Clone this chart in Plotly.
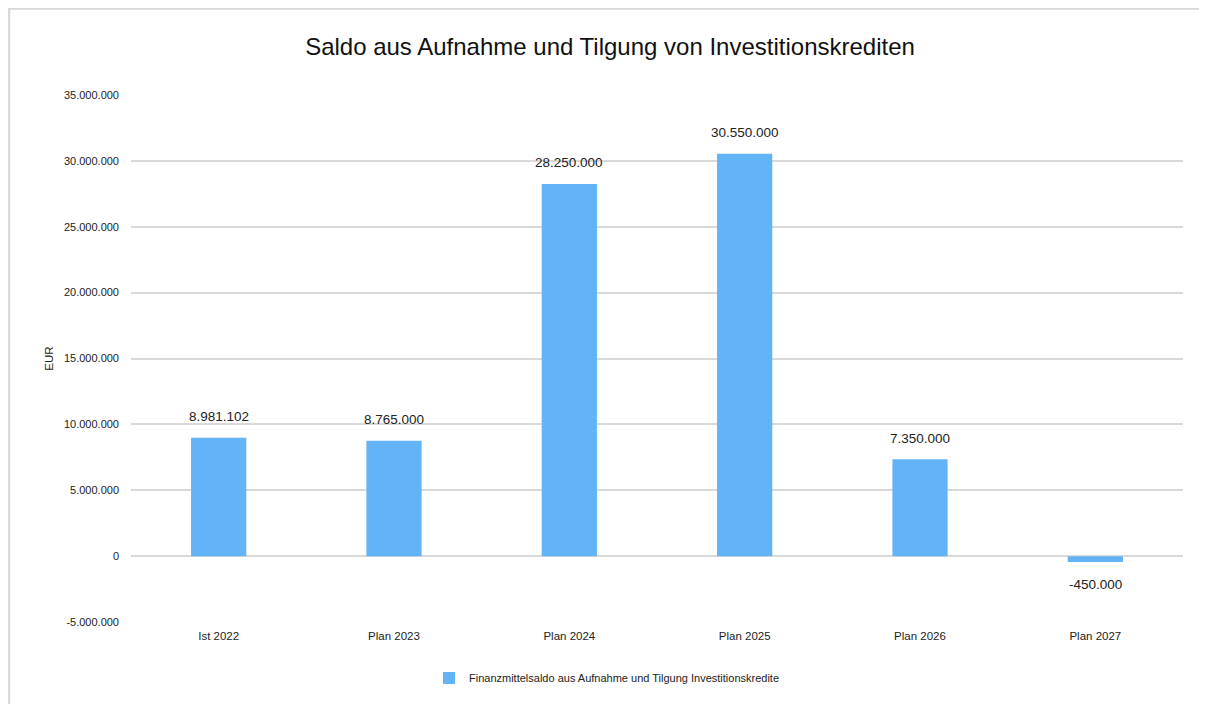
import plotly.graph_objects as go

categories = ["Ist 2022", "Plan 2023", "Plan 2024", "Plan 2025", "Plan 2026", "Plan 2027"]
values = [8981102, 8765000, 28250000, 30550000, 7350000, -450000]
series_name = "Finanzmittelsaldo aus Aufnahme und Tilgung Investitionskredite"
title_text = "Saldo aus Aufnahme und Tilgung von Investitionskrediten"
y_tick_vals = [-5000000, 0, 5000000, 10000000, 15000000, 20000000, 25000000, 30000000, 35000000]

FONT = "Liberation Sans Narrow, Arial Narrow, Liberation Sans, Arial, sans-serif"
TXT = "#222222"

def de(v):
    return f"{v:,.0f}".replace(",", ".")

fig = go.Figure()
fig.add_trace(go.Bar(
    x=categories,
    y=values,
    name=series_name,
    marker=dict(color="#63B4F6", line=dict(width=0)),
    showlegend=True,
    hoverinfo="x+y",
))

# value labels placed through the axes
for c, v in zip(categories, values):
    fig.add_annotation(
        x=c, y=v, xref="x", yref="y",
        text=de(v),
        showarrow=False, yanchor="middle",
        yshift=21 if v >= 0 else -22,
        font=dict(size=13.5, family=FONT, color=TXT),
    )

# page has an 8px body margin, so the figure is sized to fit the window
W, H = 1199, 696
L, R, T, B = 123, 24, 87, 82
pw, ph = W - L - R, H - T - B

def fx(px):
    return (px - L) / pw

def fy(py):
    return (H - B - py) / ph

border = dict(color="#D9D9D9", width=2.5)
fig.add_shape(type="line", xref="paper", yref="paper",
              x0=fx(0), x1=fx(W + 5), y0=fy(0.5), y1=fy(0.5), line=border)
fig.add_shape(type="line", xref="paper", yref="paper",
              x0=fx(1), x1=fx(1), y0=fy(0), y1=fy(H + 5), line=border)

fig.update_layout(
    width=W, height=H,
    margin=dict(l=L, r=R, t=T, b=B),
    paper_bgcolor="white",
    plot_bgcolor="white",
    separators=",.",
    font=dict(family=FONT, color=TXT),
    title=dict(text=title_text, x=(610 - 8) / W, xanchor="center", y=1 - 39 / H, yanchor="middle",
               font=dict(size=24, family=FONT, color="#111111")),
    bargap=0.685,
    xaxis=dict(showgrid=False, showline=False, ticks="", zeroline=False, ticklabelstandoff=5,
               tickfont=dict(size=11.5, family=FONT, color=TXT)),
    yaxis=dict(range=[-5000000, 35000000], tickvals=y_tick_vals,
               ticktext=[de(v) for v in y_tick_vals],
               showgrid=True, gridcolor="#D9D9D9", gridwidth=1.5,
               zeroline=True, zerolinecolor="#D9D9D9", zerolinewidth=1.5,
               showline=False, ticks="", ticklabelstandoff=11,
               tickfont=dict(size=11, family=FONT, color=TXT),
               title=dict(text="EUR", standoff=7, font=dict(size=11.5, family=FONT, color=TXT))),
    legend=dict(orientation="h", x=fx(607 - 8), xanchor="center", y=fy(678 - 8), yanchor="middle",
                font=dict(size=11, family=FONT, color=TXT),
                itemwidth=30),
)

fig.write_html("out.html")
